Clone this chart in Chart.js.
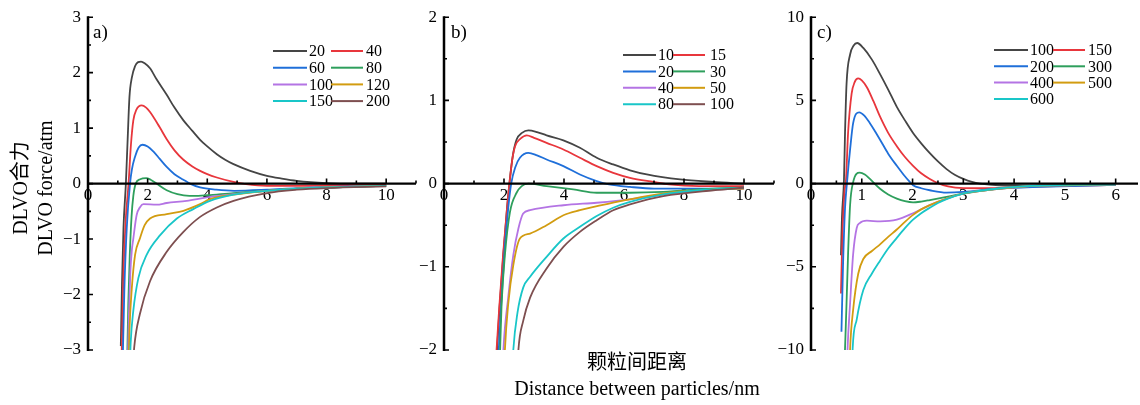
<!DOCTYPE html>
<html>
<head>
<meta charset="utf-8">
<script src="https://cdn.jsdelivr.net/npm/chart.js@4.4.0/dist/chart.umd.min.js"></script>
<style>
    body { margin: 0; background: #fff; width: 1140px; height: 405px; overflow: hidden; position: relative;
           font-family: 'Liberation Serif', 'Noto Sans CJK SC', serif; color: #000; }
    canvas { position: absolute; top: 0; }
    .panel { position: absolute; font-size: 19px; top: 21px; }
    .ytitle { position: absolute; left: 33px; top: 188px; width: 300px; font-size: 20px; line-height: 25px;
              text-align: center; transform: translate(-50%, -50%) rotate(-90deg); white-space: nowrap; }
    .xtitle { position: absolute; left: 637px; top: 349px; width: 400px; margin-left: -200px; font-size: 20px;
              line-height: 26px; text-align: center; white-space: nowrap; }
</style>
</head>
<body>
<canvas id="chartA" width="420" height="405" style="left:0px"></canvas>
<canvas id="chartB" width="380" height="405" style="left:400px"></canvas>
<canvas id="chartC" width="370" height="405" style="left:770px"></canvas>
<div class="panel" style="left:93px">a)</div>
<div class="panel" style="left:451px">b)</div>
<div class="panel" style="left:817px">c)</div>
<div class="ytitle">DLVO合力<br>DLVO force/atm</div>
<div class="xtitle">颗粒间距离<br>Distance between particles/nm</div>
<script>
// ---- dados ----
// painel a)
const labelsA = ['20', '40', '60', '80', '100', '120', '150', '200'];
const a20 = [[1.10,-2.93],[1.14,-1.8],[1.19,-0.8],[1.27,0],[1.33,0.8],[1.39,1.56],[1.47,1.91],[1.58,2.12],[1.68,2.19],[1.78,2.2],[1.9,2.17],[2.08,2.08],[2.3,1.88],[2.64,1.6],[2.9,1.37],[3.2,1.14],[3.5,0.95],[3.76,0.79],[4.0,0.67],[4.32,0.53],[4.6,0.43],[4.88,0.35],[5.44,0.23],[6.0,0.14],[6.5,0.09],[7.0,0.05],[8.0,0.01],[9.0,0.0],[10.0,0.0]];
const a40 = [[1.12,-3.3],[1.18,-1.8],[1.26,-0.7],[1.36,0],[1.44,0.7],[1.52,1.14],[1.62,1.33],[1.8,1.41],[1.95,1.37],[2.08,1.29],[2.4,1.02],[2.64,0.8],[2.9,0.6],[3.2,0.43],[3.5,0.31],[3.76,0.23],[4.0,0.17],[4.32,0.11],[4.88,0.03],[5.3,-0.01],[6.0,-0.04],[7.0,-0.04],[8.0,-0.03],[10.0,-0.02]];
const a60 = [[1.16,-3.3],[1.22,-1.9],[1.3,-0.8],[1.41,0],[1.47,0.25],[1.58,0.49],[1.7,0.65],[1.83,0.7],[2.0,0.67],[2.19,0.58],[2.4,0.45],[2.64,0.3],[2.9,0.17],[3.2,0.07],[3.42,0],[3.76,-0.07],[4.3,-0.11],[4.9,-0.13],[6.0,-0.11],[7.0,-0.08],[8.0,-0.06],[10.0,-0.04]];
const a80 = [[1.31,-3.3],[1.35,-2.2],[1.4,-1.3],[1.46,-0.6],[1.52,-0.22],[1.6,0],[1.75,0.08],[1.95,0.1],[2.1,0.07],[2.3,0],[2.64,-0.12],[3.0,-0.19],[3.4,-0.22],[3.7,-0.22],[4.0,-0.21],[4.88,-0.17],[6.0,-0.13],[7.0,-0.09],[8.0,-0.07],[10.0,-0.04]];
const a100 = [[1.33,-3.3],[1.37,-2.4],[1.42,-1.6],[1.47,-1.2],[1.52,-0.99],[1.63,-0.57],[1.75,-0.42],[1.86,-0.37],[2.3,-0.38],[2.64,-0.35],[3.31,-0.31],[3.98,-0.25],[4.88,-0.19],[6.0,-0.13],[7.0,-0.09],[8.0,-0.07],[10.0,-0.04]];
const a120 = [[1.36,-3.3],[1.39,-2.65],[1.47,-1.88],[1.58,-1.28],[1.74,-0.99],[1.9,-0.75],[2.08,-0.63],[2.64,-0.55],[3.2,-0.49],[3.76,-0.37],[4.09,-0.28],[4.88,-0.2],[6.0,-0.13],[7.0,-0.09],[8.0,-0.07],[10.0,-0.04]];
const a150 = [[1.41,-3.2],[1.43,-2.88],[1.52,-2.29],[1.69,-1.7],[1.97,-1.28],[2.42,-0.93],[2.98,-0.63],[3.53,-0.46],[4.09,-0.31],[4.88,-0.2],[6.0,-0.13],[7.0,-0.09],[8.0,-0.07],[10.0,-0.04]];
const a200 = [[1.52,-3.2],[1.55,-2.95],[1.74,-2.35],[2.08,-1.76],[2.64,-1.23],[3.2,-0.87],[3.76,-0.6],[4.32,-0.43],[4.88,-0.31],[6.0,-0.17],[7.0,-0.11],[8.0,-0.08],[10.0,-0.05]];
const xTicksA = [0, 2, 4, 6, 8, 10];
const xMinorA = [1, 3, 5, 7, 9, 11];
const yTicksA = [-3, -2, -1, 0, 1, 2, 3];
const yMinorA = [-2.5, -1.5, -0.5, 0.5, 1.5, 2.5];

// painel b)
const labelsB = ['10', '15', '20', '30', '40', '50', '80', '100'];
const b10 = [[1.72,-2.3],[1.85,-1.5],[1.98,-0.85],[2.1,-0.3],[2.18,0],[2.3,0.35],[2.42,0.53],[2.6,0.61],[2.81,0.64],[3.1,0.62],[3.42,0.58],[3.98,0.52],[4.53,0.43],[5.09,0.31],[5.64,0.23],[6.2,0.16],[6.76,0.11],[7.87,0.05],[8.98,0.02],[10.0,0.0]];
const b15 = [[1.7,-2.3],[1.84,-1.5],[1.97,-0.85],[2.1,-0.3],[2.18,0],[2.28,0.3],[2.37,0.45],[2.55,0.54],[2.76,0.58],[3.0,0.55],[3.42,0.49],[3.98,0.41],[4.53,0.31],[5.09,0.21],[5.64,0.13],[6.2,0.07],[6.98,0.02],[7.5,-0.01],[8.5,-0.03],[10.0,-0.03]];
const b20 = [[1.78,-2.3],[1.9,-1.5],[2.02,-0.8],[2.14,-0.3],[2.24,0],[2.38,0.2],[2.53,0.31],[2.81,0.37],[3.1,0.34],[3.42,0.29],[3.98,0.21],[4.53,0.11],[5.09,0.03],[5.5,-0.01],[6.2,-0.04],[7.0,-0.06],[8.0,-0.06],[9.0,-0.06],[10.0,-0.05]];
const b30 = [[1.84,-2.3],[1.87,-2.0],[1.92,-1.45],[2.03,-0.86],[2.2,-0.34],[2.42,-0.11],[2.59,-0.03],[2.81,0],[3.42,-0.03],[4.31,-0.07],[5.09,-0.11],[6.2,-0.11],[7.31,-0.1],[8.98,-0.06],[10.0,-0.05]];
const b40 = [[1.95,-2.3],[1.98,-2.0],[2.14,-1.37],[2.31,-0.86],[2.48,-0.54],[2.64,-0.36],[2.87,-0.32],[3.98,-0.26],[5.09,-0.23],[6.2,-0.19],[7.31,-0.13],[8.98,-0.075],[10.0,-0.06]];
const b50 = [[2.0,-2.3],[2.03,-2.0],[2.14,-1.45],[2.31,-0.98],[2.53,-0.66],[2.87,-0.6],[3.42,-0.5],[3.98,-0.38],[4.53,-0.32],[5.64,-0.23],[6.76,-0.15],[7.87,-0.095],[9.0,-0.07],[10.0,-0.06]];
const b80 = [[2.27,-2.3],[2.31,-2.0],[2.45,-1.55],[2.64,-1.25],[2.87,-1.12],[3.42,-0.88],[3.98,-0.66],[4.53,-0.52],[5.09,-0.39],[5.64,-0.29],[6.2,-0.22],[7.31,-0.13],[8.5,-0.08],[10.0,-0.05]];
const b100 = [[2.44,-2.3],[2.48,-2.0],[2.64,-1.65],[2.87,-1.37],[3.42,-1.02],[3.98,-0.76],[4.53,-0.58],[5.09,-0.44],[5.64,-0.32],[6.2,-0.25],[7.31,-0.15],[8.98,-0.08],[10.0,-0.05]];
const xTicksB = [0, 2, 4, 6, 8, 10];
const xMinorB = [1, 3, 5, 7, 9, 11];
const yTicksB = [-2, -1, 0, 1, 2];
const yMinorB = [-1.5, -0.5, 0.5, 1.5];

// painel c)
const labelsC = ['100', '150', '200', '300', '400', '500', '600'];
const c100 = [[0.59,-4.3],[0.61,-2.0],[0.65,0.28],[0.67,3.04],[0.70,5.99],[0.77,7.76],[0.84,8.3],[0.91,8.45],[1.03,8.15],[1.2,7.45],[1.36,6.58],[1.52,5.65],[1.69,4.61],[1.85,3.8],[2.01,3.04],[2.17,2.42],[2.34,1.83],[2.5,1.33],[2.67,0.87],[2.83,0.53],[3.0,0.28],[3.17,0.1],[3.33,0.0],[3.7,-0.1],[4.3,-0.12],[5.0,-0.1],[6.0,-0.06]];
const c150 = [[0.59,-6.6],[0.62,-3.0],[0.66,-0.5],[0.69,0.28],[0.73,3.04],[0.8,5.4],[0.86,6.1],[0.93,6.32],[1.0,6.2],[1.1,5.79],[1.23,4.95],[1.36,4.02],[1.52,3.05],[1.69,2.25],[1.85,1.6],[2.01,1.07],[2.17,0.62],[2.34,0.28],[2.5,0.03],[2.7,-0.17],[3.0,-0.27],[3.5,-0.28],[4.0,-0.22],[5.0,-0.14],[6.0,-0.08]];
const c200 = [[0.6,-8.9],[0.63,-5.0],[0.67,-1.5],[0.71,0.09],[0.77,2.05],[0.83,3.63],[0.95,4.28],[1.05,4.08],[1.16,3.63],[1.26,3.15],[1.36,2.64],[1.52,1.8],[1.69,1.07],[1.82,0.55],[1.95,0.09],[2.01,-0.1],[2.17,-0.28],[2.34,-0.4],[2.67,-0.54],[3.0,-0.5],[3.66,-0.31],[4.5,-0.2],[6.0,-0.08]];
const c300 = [[0.66,-11],[0.67,-9.94],[0.70,-7.19],[0.73,-4.24],[0.77,-1.29],[0.83,0.09],[0.96,0.66],[1.06,0.55],[1.16,0.28],[1.36,-0.31],[1.52,-0.65],[1.69,-0.9],[1.85,-1.06],[2.01,-1.13],[2.17,-1.08],[2.34,-0.99],[2.67,-0.8],[3.0,-0.6],[3.66,-0.31],[4.31,-0.15],[5.0,-0.1],[6.0,-0.05]];
const c400 = [[0.71,-11],[0.72,-9.94],[0.77,-7.19],[0.83,-4.24],[0.9,-2.67],[0.96,-2.37],[1.1,-2.23],[1.36,-2.27],[1.69,-2.17],[2.01,-1.78],[2.34,-1.29],[2.67,-0.9],[3.0,-0.6],[3.66,-0.33],[4.31,-0.15],[5.0,-0.1],[6.0,-0.05]];
const c500 = [[0.76,-11],[0.77,-9.94],[0.83,-7.58],[0.93,-5.42],[1.03,-4.53],[1.2,-4.05],[1.36,-3.65],[1.52,-3.2],[1.69,-2.76],[1.85,-2.3],[2.01,-1.88],[2.17,-1.55],[2.34,-1.29],[2.67,-0.9],[3.0,-0.6],[3.66,-0.33],[4.31,-0.15],[5.0,-0.1],[6.0,-0.05]];
const c600 = [[0.81,-11],[0.82,-9.94],[0.9,-8.17],[1.03,-6.4],[1.2,-5.4],[1.36,-4.63],[1.52,-3.9],[1.69,-3.26],[1.85,-2.68],[2.01,-2.17],[2.17,-1.78],[2.34,-1.45],[2.5,-1.17],[2.67,-0.93],[3.0,-0.6],[3.33,-0.43],[3.66,-0.31],[4.31,-0.14],[5.0,-0.08],[6.0,-0.05]];
const xTicksC = [0, 1, 2, 3, 4, 5, 6];
const xMinorC = [0.5, 1.5, 2.5, 3.5, 4.5, 5.5];
const yTicksC = [-10, -5, 0, 5, 10];
const yMinorC = [-7.5, -2.5, 2.5, 7.5];

// ---- estilo ----
const cores = ['#454545', '#e8363c', '#1f6fd9', '#2e9f5c', '#b474e4', '#d29c10', '#19c6c8', '#7e4f50'];
const fonte = "'Liberation Serif', 'Times New Roman', serif";

function menos(v) {
    return String(v).replace('-', '\u2212');
}

// eixos com ticks para dentro, desenhados por cima das curvas
const eixosPlugin = {
    id: 'eixos',
    afterDatasetsDraw(chart, args, opts) {
        const { ctx, chartArea, scales } = chart;
        const x = scales.x, y = scales.y;
        const y0 = y.getPixelForValue(0);
        ctx.save();
        ctx.strokeStyle = '#000';
        ctx.lineWidth = 2.5;
        ctx.beginPath();
        ctx.moveTo(chartArea.left, chartArea.top - 1);
        ctx.lineTo(chartArea.left, chartArea.bottom + 1);
        ctx.stroke();
        ctx.lineWidth = 2.2;
        ctx.beginPath();
        ctx.moveTo(chartArea.left, y0);
        ctx.lineTo(chartArea.right, y0);
        ctx.stroke();
        ctx.lineWidth = 1.6;
        ctx.beginPath();
        opts.yMajor.forEach(v => {
            const p = y.getPixelForValue(v);
            ctx.moveTo(chartArea.left, p); ctx.lineTo(chartArea.left + 5, p);
        });
        opts.yMinor.forEach(v => {
            const p = y.getPixelForValue(v);
            ctx.moveTo(chartArea.left, p); ctx.lineTo(chartArea.left + 3, p);
        });
        opts.xMajor.forEach(v => {
            const p = x.getPixelForValue(v);
            ctx.moveTo(p, y0); ctx.lineTo(p, y0 - 5);
        });
        opts.xMinor.forEach(v => {
            const p = x.getPixelForValue(v);
            ctx.moveTo(p, y0); ctx.lineTo(p, y0 - 3);
        });
        ctx.stroke();
        ctx.restore();
    }
};

// legenda em duas colunas
const legendaPlugin = {
    id: 'legenda',
    afterDraw(chart, args, opts) {
        const { ctx } = chart;
        ctx.save();
        ctx.font = '16px ' + fonte;
        ctx.fillStyle = '#000';
        ctx.textBaseline = 'middle';
        ctx.lineWidth = 2;
        chart.data.datasets.forEach((ds, i) => {
            const col = opts.cols[i % 2];
            const yy = opts.top + Math.floor(i / 2) * opts.dy;
            ctx.strokeStyle = ds.borderColor;
            ctx.beginPath();
            ctx.moveTo(col[0], yy);
            ctx.lineTo(col[1], yy);
            ctx.stroke();
            ctx.fillText(ds.label, col[2], yy + 1);
        });
        ctx.restore();
    }
};

function montar(id, labels, series, ext, eixoW, padR, xT, xM, yT, yM, legenda) {
    const datasets = series.map((s, i) => ({
        label: labels[i],
        data: s.map(p => ({ x: p[0], y: p[1] })),
        borderColor: cores[i],
        borderWidth: 1.8,
        pointRadius: 0,
        fill: false,
        cubicInterpolationMode: 'monotone',
        order: -i
    }));
    return new Chart(document.getElementById(id), {
        type: 'line',
        data: { datasets },
        options: {
            responsive: false,
            animation: false,
            events: [],
            layout: { padding: { left: 0, right: padR, top: 12, bottom: 55 } },
            scales: {
                x: {
                    type: 'linear',
                    position: { y: 0 },
                    min: ext[0], max: ext[1],
                    afterFit: s => { s.height = 0; },
                    afterBuildTicks: s => { s.ticks = xT.map(v => ({ value: v })); },
                    grid: { display: false, drawTicks: false },
                    border: { display: false },
                    ticks: { autoSkip: false, maxRotation: 0, padding: 2, color: '#000',
                             font: { family: fonte, size: 17 }, callback: v => menos(v) }
                },
                y: {
                    type: 'linear',
                    position: 'left',
                    min: ext[2], max: ext[3],
                    afterFit: s => { s.width = eixoW; },
                    afterBuildTicks: s => { s.ticks = yT.map(v => ({ value: v })); },
                    grid: { display: false, drawTicks: false },
                    border: { display: false },
                    ticks: { padding: 7, color: '#000', font: { family: fonte, size: 17 }, callback: v => menos(v) }
                }
            },
            plugins: {
                legend: { display: false },
                tooltip: { enabled: false },
                eixos: { xMajor: xT, xMinor: xM, yMajor: yT, yMinor: yM },
                legenda: legenda
            }
        },
        plugins: [eixosPlugin, legendaPlugin]
    });
}

montar('chartA', labelsA, [a20, a40, a60, a80, a100, a120, a150, a200], [0, 11, -3, 3], 88, 4,
    xTicksA, xMinorA, yTicksA, yMinorA,
    { cols: [[273, 307, 309], [331, 363, 366]], top: 51, dy: 16.7 });
montar('chartB', labelsB, [b10, b15, b20, b30, b40, b50, b80, b100], [0, 11, -2, 2], 44, 6,
    xTicksB, xMinorB, yTicksB, yMinorB,
    { cols: [[223, 256, 258], [273, 305, 310]], top: 55, dy: 16.4 });
montar('chartC', labelsC, [c100, c150, c200, c300, c400, c500, c600], [0, 6.44, -10, 10], 41, 2,
    xTicksC, xMinorC, yTicksC, yMinorC,
    { cols: [[224, 258, 260], [283, 315, 318]], top: 50, dy: 16.3 });
</script>
</body>
</html>
